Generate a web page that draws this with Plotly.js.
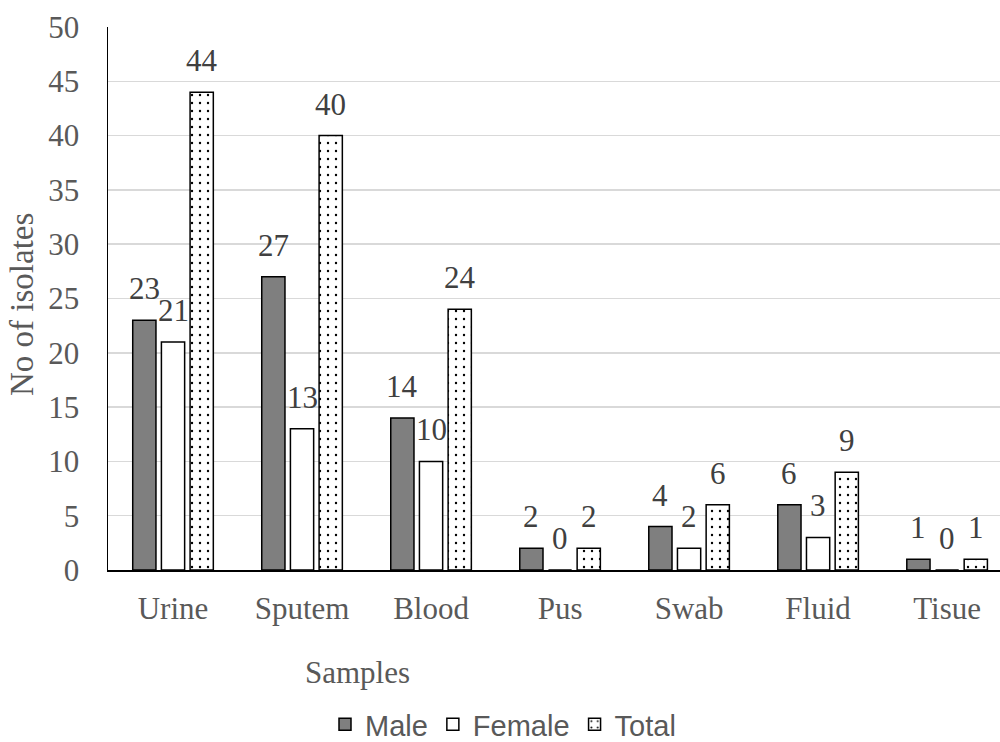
<!DOCTYPE html>
<html><head><meta charset="utf-8">
<script src="https://cdn.plot.ly/plotly-3.0.1.min.js"></script>
<style>html,body{margin:0;padding:0;background:#fff}#chart{width:1000px;height:742px}</style>
</head><body><div id="chart"></div>
<script>
const categories = ["Urine","Sputem","Blood","Pus","Swab","Fluid","Tisue"];
const male = [23,27,14,2,4,6,1];
const female = [21,13,10,0,2,3,0];
const total = [44,40,24,2,6,9,1];
const seriesNames = ["Male","Female","Total"];
const yTicks = [0,5,10,15,20,25,30,35,40,45,50];

const serif = "Liberation Serif, Times New Roman, serif";
const sans = "Liberation Sans, Arial, sans-serif";
const lineStyle = {color:"#000", width:1.5};

const traces = [
  {type:"bar", name:seriesNames[0], x:categories, y:male,
   marker:{color:"#7f7f7f", line:lineStyle}},
  {type:"bar", name:seriesNames[1], x:categories, y:female,
   marker:{color:"#ffffff", line:lineStyle}},
  {type:"bar", name:seriesNames[2], x:categories, y:total,
   marker:{color:"#ffffff", line:lineStyle,
     pattern:{shape:".", fgcolor:"#000", bgcolor:"#fff", size:8, solidity:0.07}}}
];
traces.forEach(t => t.hoverinfo = "x+y+name");

const slot = 28.7;
const annotations = [];
[male, female, total].forEach((arr, si) => {
  arr.forEach((v, ci) => {
    annotations.push({x:categories[ci], y:v, xref:"x", yref:"y", text:String(v),
      showarrow:false, xshift:(si-1)*slot, yshift:12, yanchor:"bottom", xanchor:"center",
      font:{family:serif, size:31, color:"#404040"}});
  });
});
const pw = 1000-108, ph = 742-27-172;
annotations.push({x:(357-108)/pw, y:(570-672)/ph, xref:"paper", yref:"paper", text:"Samples",
  showarrow:false, xanchor:"center", yanchor:"middle",
  font:{family:serif, size:31, color:"#595959"}});
annotations.push({x:(22-108)/pw, y:(570-305)/ph, xref:"paper", yref:"paper", text:"No of isolates",
  showarrow:false, xanchor:"center", yanchor:"middle", textangle:-90,
  font:{family:serif, size:33, color:"#595959"}});

const layout = {
  width:1000, height:742,
  margin:{l:108, r:0, t:27, b:172, autoexpand:false},
  paper_bgcolor:"#fff", plot_bgcolor:"#fff",
  barmode:"group", bargap:0.333, bargroupgap:0.19,
  showlegend:true,
  legend:{orientation:"h", x:(503-108)/pw, xanchor:"center", y:(570-750)/ph, yanchor:"bottom",
    font:{family:sans, size:29, color:"#595959"}, itemwidth:30, traceorder:"normal"},
  xaxis:{type:"category", range:[-0.504, 6.41], showline:true, linecolor:"#000", linewidth:1.5,
    ticks:"", tickfont:{family:serif, size:31, color:"#595959"}, ticklabelstandoff:10,
    showgrid:false, zeroline:false, fixedrange:true},
  yaxis:{range:[0,50], tickvals:yTicks, ticks:"", showline:true, linecolor:"#000", linewidth:1.5,
    showgrid:true, gridcolor:"#d9d9d9", gridwidth:1.5, zeroline:false,
    tickfont:{family:serif, size:31, color:"#595959"}, ticklabelstandoff:21},
  annotations:annotations
};

Plotly.newPlot("chart", traces, layout, {displayModeBar:false, staticPlot:true});
</script></body></html>
